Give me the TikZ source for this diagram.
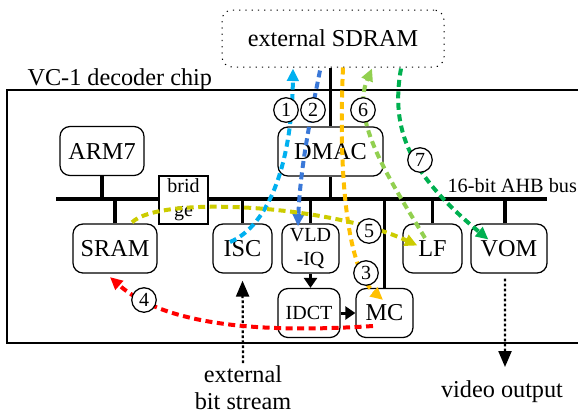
\documentclass[tikz,border=0pt]{standalone}
\usepackage{fontspec}
\setmainfont{Liberation Serif}
\usetikzlibrary{arrows.meta,calc}

\definecolor{flowcyan}{HTML}{00B0F0}
\definecolor{flowblue}{HTML}{3A78D8}
\definecolor{floworange}{HTML}{FFC000}
\definecolor{flowred}{HTML}{FF0000}
\definecolor{flowyellow}{HTML}{CCCC00}
\definecolor{flowlime}{HTML}{92D050}
\definecolor{flowgreen}{HTML}{00B050}

\tikzset{
	block/.style={draw, rounded corners=4pt, line width=0.5pt, fill=white, minimum height=19.6pt, inner sep=0pt},
	smalltext/.style={font=\fontsize{8}{9.8}\selectfont},
	stub/.style={line width=1.4pt},
	link/.style={line width=1.2pt, -{Triangle[length=4pt,width=5.2pt]}},
	feed/.style={line width=0.9pt, dash pattern=on 1.1pt off 0.9pt, -{Triangle[length=6.4pt,width=5.2pt]}},
	flow/.style={line width=1.6pt, dash pattern=on 2.8pt off 1.8pt, -{Triangle[length=5pt,width=4.6pt]}},
	num/.style={draw, circle, fill=white, minimum size=9.8pt, inner sep=0pt, line width=0.5pt, font=\fontsize{8}{9}\selectfont},
}

\begin{document}
\begin{tikzpicture}[x=0.4pt, y=-0.4pt, font=\fontsize{9.7}{11.6}\selectfont]
		\useasboundingbox (0,0) rectangle (578,415);
		% external memory and chip outline
		\node[block, dotted, line width=0.4pt, minimum width=88.8pt, minimum height=22.8pt] (sdram) at (333,38.5) {external SDRAM};
		\draw[line width=0.5pt] (578,90) -- (7,90) -- (7,343) -- (578,343);
		\node[anchor=base west, inner sep=0pt] (chiplabel) at (27,85) {VC-1 decoder chip};
		% AHB bus
		\coordinate (busW) at (56,199);
		\coordinate (busE) at (547,199);
		\draw[line width=1.6pt] (busW) -- (busE);
		\node[anchor=base west, inner sep=0pt, font=\fontsize{8.1}{9.6}\selectfont] (buslabel) at (447,192) {16-bit AHB bus};
		% blocks
		\node[block, minimum width=33.6pt] (arm) at (102,151) {ARM7};
		\node[block, minimum width=42pt] (dmac) at (330.5,151.5) {DMAC};
		\node[block, minimum width=33.6pt] (sram) at (115,248.5) {SRAM};
		\node[block, minimum width=23.6pt] (isc) at (242.5,248.5) {ISC};
		\node[block, minimum width=22.8pt, smalltext, align=center] (vld) at (310.5,248.5) {VLD\\-IQ};
		\node[block, minimum width=24.8pt, smalltext] (idct) at (309,313) {IDCT};
		\node[block, minimum width=22.8pt] (mc) at (384.5,313) {MC};
		\node[block, minimum width=23.6pt] (lf) at (432.5,248.5) {LF};
		\node[block, minimum width=30.4pt] (vom) at (509,248.5) {VOM};
		\node[draw, line width=0.5pt, fill=white, minimum width=19.6pt, minimum height=19.2pt, inner sep=0pt, align=center, font=\fontsize{8}{9.6}\selectfont] (bridge) at (183.5,200) {brid\\ge};
		% bus taps
		\draw[stub] (arm.south) -- (arm.south |- busW);
		\draw[stub] (dmac.south) -- (dmac.south |- busW);
		\draw[stub] (dmac.north) -- (dmac.north |- sdram.south);
		\draw[stub] (sram.north) -- (sram.north |- busW);
		\draw[stub] (isc.north) -- (isc.north |- busW);
		\draw[stub] (vld.north) -- (vld.north |- busW);
		\draw[stub] (mc.north) -- (mc.north |- busW);
		\draw[stub] (lf.north) -- (lf.north |- busW);
		\draw[stub] ([xshift=-1.6pt]vom.north) -- ([xshift=-1.6pt]vom.north |- busW);
		% datapath
		\draw[link] (vld.south) -- (vld.south |- idct.north);
		\draw[link] (idct.east) -- (mc.west);
		% outside world
		\coordinate (bitsrc) at (243,363);
		\draw[feed] (bitsrc) -- ([yshift=-2.8pt]isc.south);
		\node[align=center, inner sep=0pt, font=\fontsize{9.7}{10.8}\selectfont] (bitlabel) at (243,388) {external\\bit stream};
		\coordinate (vout) at (505,367);
		\draw[feed] ([xshift=-1.6pt, yshift=-2pt]vom.south) -- (vout);
		\node[anchor=base, inner sep=0pt] (voutlabel) at (502,397) {video output};
		% data flows
		\draw[flow, flowcyan] ($(isc.center)+(-12.5,-6.5)$) .. controls (270,225) and (292,160) .. ($(sdram.south)+(-40,1)$);
		\draw[flow, flowblue] ($(sdram.south)+(-13,3)$) .. controls (310,120) and (300,170) .. ($(vld.north)+(-12.5,3)$);
		\draw[flow, floworange] ($(sdram.south)+(10,0)$) .. controls (338,180) and (348,270) .. ($(mc.north)+(-1.5,12)$);
		\draw[flow, flowred] ($(mc.center)+(-11.5,13)$) .. controls (280,332) and (170,330) .. ($(sram.south)+(-5,3.5)$);
		\draw[flow, flowyellow] ($(sram.north)+(17,-1)$) .. controls (160,195) and (330,205) .. ($(lf.west)+(15,-3)$);
		\draw[flow, flowlime] ($(lf.center)+(-7.5,-10.5)$) .. controls (390,180) and (350,120) .. ($(sdram.south)+(39,1)$);
		\draw[flow, flowgreen] ($(sdram.south)+(68,1)$) .. controls (390,130) and (410,175) .. ($(vom.west)+(18,-9)$);
		% step numbers
		\node[num] (n1) at (286,110) {1};
		\node[num] (n2) at (313,110) {2};
		\node[num] (n3) at (366,273) {3};
		\node[num] (n4) at (144,300) {4};
		\node[num] (n5) at (369,231) {5};
		\node[num] (n6) at (363,110) {6};
		\node[num] (n7) at (420,160) {7};
	\end{tikzpicture}
\end{document}
